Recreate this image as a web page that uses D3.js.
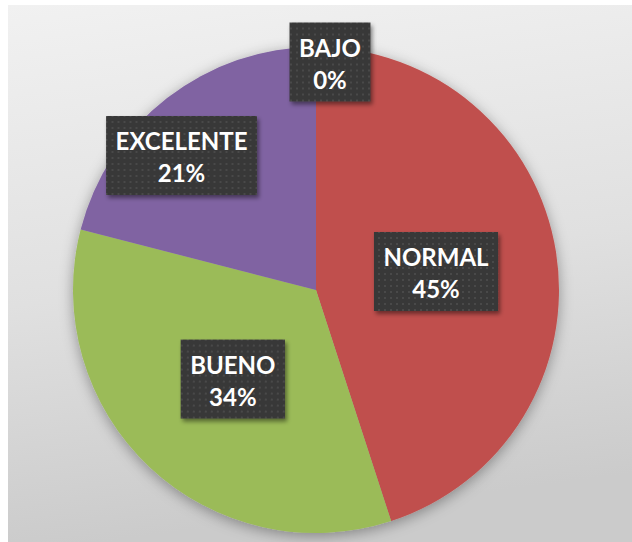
<!DOCTYPE html>
<html>
<head>
<meta charset="utf-8">
<script src="https://cdn.jsdelivr.net/npm/d3@7"></script>
<style>
  html, body { margin: 0; padding: 0; background: #ffffff; }
  #chart svg { display: block; }
</style>
</head>
<body>
<div id="chart"></div>
<script>
// data
var categories = ["BAJO", "NORMAL", "BUENO", "EXCELENTE"];
var values = [0, 45, 34, 21];
var colors = ["#4f81bd", "#c0504d", "#9bbb59", "#8064a2"];

var width = 632, height = 542;
var cx = 316, cy = 290, radius = 243;

var svg = d3.select("#chart")
    .append("svg")
    .attr("width", width)
    .attr("height", height);

var defs = svg.append("defs");

// background gradient of the plot panel
var bg = defs.append("linearGradient")
    .attr("id", "bg")
    .attr("x1", 0).attr("y1", 0).attr("x2", 0.15).attr("y2", 1);
bg.append("stop").attr("offset", "0%").attr("stop-color", "#f1f1f1");
bg.append("stop").attr("offset", "55%").attr("stop-color", "#e0e0e0");
bg.append("stop").attr("offset", "100%").attr("stop-color", "#cbcbcb");

// soft shadow for the pie and the label boxes
var sh = defs.append("filter").attr("id", "pieShadow")
    .attr("x", "-20%").attr("y", "-20%").attr("width", "140%").attr("height", "140%");
sh.append("feDropShadow")
    .attr("dx", 0).attr("dy", 3)
    .attr("stdDeviation", 7)
    .attr("flood-color", "#000")
    .attr("flood-opacity", 0.35);

var bs = defs.append("filter").attr("id", "boxShadow")
    .attr("x", "-20%").attr("y", "-20%").attr("width", "140%").attr("height", "140%");
bs.append("feDropShadow")
    .attr("dx", 2).attr("dy", 3)
    .attr("stdDeviation", 2)
    .attr("flood-color", "#000")
    .attr("flood-opacity", 0.45);

// dotted dark fill for labels
var pat = defs.append("pattern")
    .attr("id", "dots")
    .attr("width", 6).attr("height", 6)
    .attr("patternUnits", "userSpaceOnUse");
pat.append("rect").attr("width", 6).attr("height", 6).attr("fill", "#383838");
pat.append("circle").attr("cx", 3).attr("cy", 3).attr("r", 0.9).attr("fill", "#515151");

svg.append("rect")
    .attr("x", 8).attr("y", 5)
    .attr("width", width - 8).attr("height", height - 5)
    .attr("fill", "url(#bg)");

// pie
var pie = d3.pie().sort(null).value(function(d) { return d.value; });
var arc = d3.arc().innerRadius(0).outerRadius(radius);
var labelArc = d3.arc().innerRadius(radius * 0.5).outerRadius(radius * 0.5);

var data = categories.map(function(c, i) {
    return { name: c, value: values[i], color: colors[i] };
});
var total = d3.sum(values);
var slices = pie(data);

var g = svg.append("g")
    .attr("transform", "translate(" + cx + "," + cy + ")");

g.append("g")
    .attr("filter", "url(#pieShadow)")
    .selectAll("path")
    .data(slices)
    .enter()
    .append("path")
    .attr("d", arc)
    .attr("fill", function(d) { return d.data.color; });

// labels moved away from the centroid where Excel did so
var nudge = { BAJO: [14, -107], EXCELENTE: [-60, -39] };

var labels = g.selectAll("g.lbl")
    .data(slices)
    .enter()
    .append("g")
    .attr("class", "lbl")
    .attr("transform", function(d) {
        var c = labelArc.centroid(d);
        var n = nudge[d.data.name] || [0, 0];
        return "translate(" + (c[0] + n[0]) + "," + (c[1] + n[1]) + ")";
    });

var box = labels.append("rect")
    .attr("fill", "url(#dots)")
    .attr("filter", "url(#boxShadow)");

labels.append("text")
    .attr("text-anchor", "middle")
    .attr("y", -5)
    .attr("fill", "#ffffff")
    .style("font-family", "Lato, 'Open Sans', sans-serif")
    .style("font-weight", "bold")
    .style("font-size", "24px")
    .text(function(d) { return d.data.name; });

labels.append("text")
    .attr("text-anchor", "middle")
    .attr("y", 27)
    .attr("fill", "#ffffff")
    .style("font-family", "Lato, 'Open Sans', sans-serif")
    .style("font-weight", "bold")
    .style("font-size", "24px")
    .text(function(d) { return Math.round(d.data.value / total * 100) + "%"; });

// size boxes to their text
labels.each(function() {
    var el = d3.select(this);
    var w = 0;
    el.selectAll("text").each(function() {
        w = Math.max(w, this.getComputedTextLength());
    });
    var bw = Math.max(w + 19, 79);
    el.select("rect")
        .attr("x", -bw / 2).attr("y", -39)
        .attr("width", bw).attr("height", 79);
});
</script>
</body>
</html>
